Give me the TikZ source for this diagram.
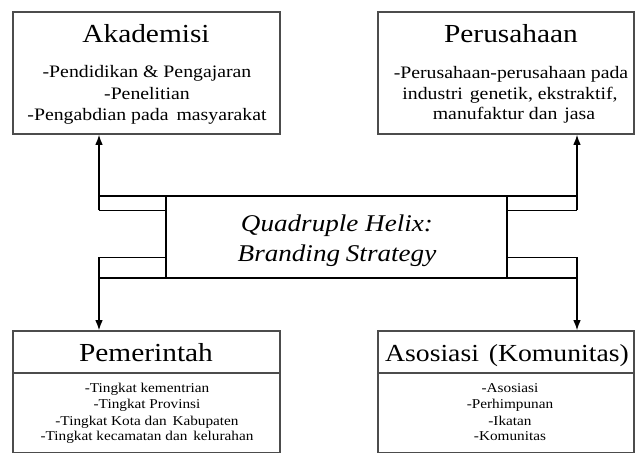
\documentclass[tikz,border=0pt]{standalone}
\usepackage{fontspec}
\setmainfont{Liberation Serif}[FakeStretch=1.13]
\usetikzlibrary{arrows.meta}
\tikzset{
  box/.style={draw=black!70, line width=1.6pt, rectangle, inner sep=0pt},
  conn/.style={draw=black, line width=1.2pt},
  arr/.style={conn, -{Latex[length=10pt,width=7.5pt]}},
  head/.style={anchor=base, inner sep=0pt, font=\fontsize{26}{30}\selectfont},
  body/.style={anchor=base, inner sep=0pt, font=\fontsize{17.5}{22}\selectfont},
  small/.style={anchor=base, inner sep=0pt, font=\fontsize{13.5}{16}\selectfont},
  mid/.style={anchor=base, inner sep=0pt, font=\fontsize{24}{30}\selectfont\itshape},
}
\begin{document}
\begin{tikzpicture}[x=1pt,y=-1pt]
\useasboundingbox[fill=white] (0,0) rectangle (635,454);
% boxes
\node[box, minimum width=267pt, minimum height=122pt] (ak) at (146.5,73) {};
\node[box, minimum width=256pt, minimum height=122pt] (pe) at (506,73) {};
\node[box, minimum width=267pt, minimum height=121.5pt] (pm) at (146.5,391.75) {};
\node[box, minimum width=256pt, minimum height=121.5pt] (as) at (506,391.75) {};
\node[draw=black, line width=1.2pt, inner sep=0pt, minimum width=341pt, minimum height=82pt] (hub) at (336.5,237) {};
% dividers in bottom boxes
\coordinate (dl) at (13,373);
\coordinate (dr) at (378,373);
\draw[box] (dl) -- (dl -| pm.east);
\draw[box] (dr) -- (dr -| as.east);
% texts
\node[head] (akh) at (146,43) {Akademisi};
\node[body] (ak1) at (147,78) {-Pendidikan \& Pengajaran};
\node[body] (ak2) at (147,100) {-Penelitian};
\node[body] (ak3) at (147,121) {-Pengabdian pada\hspace{3pt} masyarakat};
\node[head] (peh) at (511,43) {Perusahaan};
\node[body] (pe1) at (511,79) {-Perusahaan-perusahaan pada};
\node[body] (pe2) at (510,100) {industri\hspace{2pt} genetik, ekstraktif,};
\node[body] (pe3) at (514,120) {manufaktur dan\hspace{2pt} jasa};
\node[head] (pmh) at (146,362) {Pemerintah};
\node[small] (pm1) at (147,393) {-Tingkat kementrian};
\node[small] (pm2) at (147,409) {-Tingkat Provinsi};
\node[small] (pm3) at (147,425) {-Tingkat Kota dan\hspace{2pt} Kabupaten};
\node[small] (pm4) at (147,440) {-Tingkat kecamatan dan\hspace{2pt} kelurahan};
\node[head, font=\fontsize{24.5}{30}\selectfont] (ash) at (507,362) {Asosiasi\hspace{3pt} (Komunitas)};
\node[small] (as1) at (510,393) {-Asosiasi};
\node[small] (as2) at (510,409) {-Perhimpunan};
\node[small] (as3) at (510,425) {-Ikatan};
\node[small] (as4) at (510,440) {-Komunitas};
\node[mid] (q1) at (337,232) {Quadruple Helix:};
\node[mid] (q2) at (337,262) {Branding\hspace{-1pt} Strategy};
% connectors
\coordinate (lT) at (99,196);
\coordinate (rT) at (577,196);
\coordinate (lU) at (99,210.5);
\coordinate (rU) at (577,210.5);
\coordinate (lD) at (99,257.5);
\coordinate (rD) at (577,257.5);
\coordinate (lB) at (99,278);
\coordinate (rB) at (577,278);
\draw[conn] (lT) -- (rT);
\draw[conn] (lB) -- (rB);
\draw[conn] (lU) -- (lU -| hub.west);
\draw[conn] (rU) -- (rU -| hub.east);
\draw[conn] (lD) -- (lD -| hub.west);
\draw[conn] (rD) -- (rD -| hub.east);
\draw[arr] (lU) -- (lU |- ak.south);
\draw[arr] (rU) -- (rU |- pe.south);
\draw[arr] (lD) -- (lD |- pm.north);
\draw[arr] (rD) -- (rD |- as.north);
\end{tikzpicture}
\end{document}
